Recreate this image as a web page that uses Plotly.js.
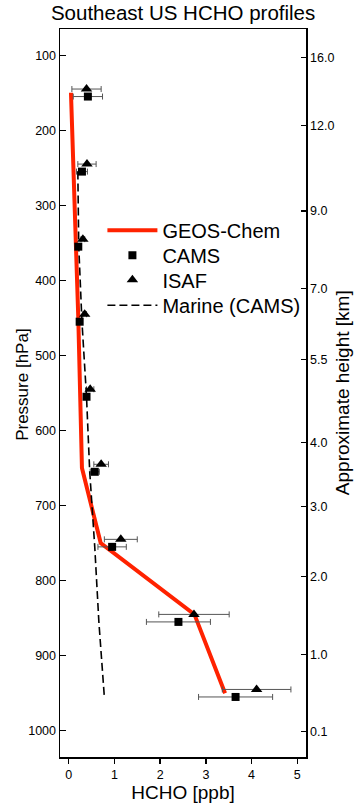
<!DOCTYPE html>
<html>
<head>
<meta charset="utf-8">
<script src="https://cdn.plot.ly/plotly-3.0.1.min.js"></script>
<style>html,body{margin:0;padding:0;background:#fff;}#chart{width:359px;height:803px;}</style>
</head>
<body>
<div id="chart"></div>
<script>
// GEOS-Chem model profile
var geosP = [150, 250, 350, 450, 550, 650, 750, 845, 950];
var geosV = [0.05, 0.11, 0.16, 0.21, 0.25, 0.29, 0.70, 2.75, 3.42];
// CAMS observations
var camsP = [155, 255, 355, 455, 555, 655, 755, 855, 955];
var camsV = [0.42, 0.29, 0.21, 0.24, 0.39, 0.57, 0.95, 2.40, 3.65];
var camsErr = [0.32, 0.12, 0.04, 0.04, 0.06, 0.10, 0.31, 0.70, 0.81];
// ISAF observations
var isafP = [145, 245, 345, 445, 545, 645, 745, 845, 945];
var isafV = [0.39, 0.40, 0.31, 0.35, 0.47, 0.71, 1.14, 2.74, 4.11];
var isafErr = [0.32, 0.20, 0.04, 0.04, 0.08, 0.16, 0.36, 0.77, 0.75];
// Marine (CAMS)
var marineP = [255, 355, 455, 555, 655, 755, 855, 955];
var marineV = [0.20, 0.22, 0.29, 0.39, 0.46, 0.57, 0.66, 0.78];
// right-axis height tick labels (km)
var heightTicks = [16.0, 12.0, 9.0, 7.0, 5.5, 4.0, 3.0, 2.0, 1.0, 0.1];
var heightLabels = ["16.0", "12.0", "9.0", "7.0", "5.5", "4.0", "3.0", "2.0", "1.0", "0.1"];
var pressureTicks = [100, 200, 300, 400, 500, 600, 700, 800, 900, 1000];
var xTicks = [0, 1, 2, 3, 4, 5];

// standard atmosphere: height (km) -> pressure (hPa)
function stdPressure(hkm) {
  var h = hkm * 1000;
  if (h <= 11000) return 1013.25 * Math.pow(1 - 0.0065 * h / 288.15, 5.25588);
  return 226.32 * Math.exp(-1.5769e-4 * (h - 11000));
}
var heightTickP = heightTicks.map(stdPressure);

var FONT = "Liberation Sans, Arial, sans-serif";
var errStyle = {type: 'data', visible: true, color: '#555555', thickness: 1, width: 3};

var traces = [
  {x: geosV, y: geosP, mode: 'lines', name: 'GEOS-Chem', legend: 'legend',
   line: {color: '#ff2200', width: 4}},
  {x: camsV, y: camsP, mode: 'markers', name: 'CAMS', legend: 'legend2',
   marker: {symbol: 'square', size: 8, color: '#000'},
   error_x: Object.assign({array: camsErr}, errStyle)},
  {x: isafV, y: isafP, mode: 'markers', name: 'ISAF', legend: 'legend3',
   marker: {symbol: 'triangle-up', size: 10, color: '#000'},
   error_x: Object.assign({array: isafErr}, errStyle)},
  {x: marineV, y: marineP, mode: 'lines', name: 'Marine (CAMS)', legend: 'legend4',
   line: {color: '#000', width: 1.6, dash: '8px,4px'}},
  {x: [null], y: [null], yaxis: 'y2', showlegend: false, hoverinfo: 'skip', mode: 'markers'}
];

// plot area in pixels
var L = 59.5, R = 306, T = 28.5, B = 757;
function px2x(px) { return (px - L) / (R - L); }
function px2y(py) { return 1 - (py - T) / (B - T); }

function legendAt(py) {
  return {x: px2x(102), y: px2y(py), xanchor: 'left', yanchor: 'middle',
          bgcolor: 'rgba(0,0,0,0)', borderwidth: 0,
          font: {size: 20, family: FONT, color: '#000'}, itemwidth: 50};
}

var yr = [1035, 65];
var axisCommon = {showline: true, linecolor: '#000', linewidth: 1.5, showgrid: false,
                  zeroline: false, tickcolor: '#000', tickwidth: 1.3, tickfont: {size: 12.5}};
var layout = {
  width: 359, height: 803,
  margin: {l: L, r: 359 - R, t: T, b: 803 - B, pad: 0},
  paper_bgcolor: '#fff', plot_bgcolor: '#fff',
  font: {family: FONT, color: '#000', size: 12},
  title: {text: 'Southeast US HCHO profiles', font: {size: 20.5, family: FONT, color: '#000'},
          x: 0.51, xanchor: 'center', y: 0.993, yanchor: 'top', yref: 'container'},
  showlegend: true,
  legend: legendAt(230),
  legend2: legendAt(255),
  legend3: legendAt(279.5),
  legend4: legendAt(305),
  xaxis: Object.assign({range: [-0.19, 5.19], tickvals: xTicks, ticktext: xTicks.map(String),
          ticks: 'outside', ticklen: 5, mirror: true,
          title: {text: 'HCHO [ppb]', font: {size: 19}, standoff: 8}}, axisCommon),
  yaxis: Object.assign({range: yr, tickvals: pressureTicks, ticktext: pressureTicks.map(String),
          ticks: 'inside', ticklen: 6}, axisCommon),
  yaxis2: Object.assign({range: yr, overlaying: 'y', side: 'right', anchor: 'x',
           tickvals: heightTickP, ticktext: heightLabels,
           ticks: 'inside', ticklen: 5}, axisCommon),
  annotations: [
    {text: 'Pressure [hPa]', textangle: -90, xref: 'paper', yref: 'paper',
     x: px2x(22), y: px2y(385), xanchor: 'center', yanchor: 'middle', showarrow: false,
     font: {size: 17, family: FONT, color: '#000'}},
    {text: 'Approximate height [km]', textangle: -90, xref: 'paper', yref: 'paper',
     x: px2x(342), y: px2y(392), xanchor: 'center', yanchor: 'middle', showarrow: false,
     font: {size: 19, family: FONT, color: '#000'}}
  ]
};

Plotly.newPlot('chart', traces, layout, {displayModeBar: false, staticPlot: true});
</script>
</body>
</html>
